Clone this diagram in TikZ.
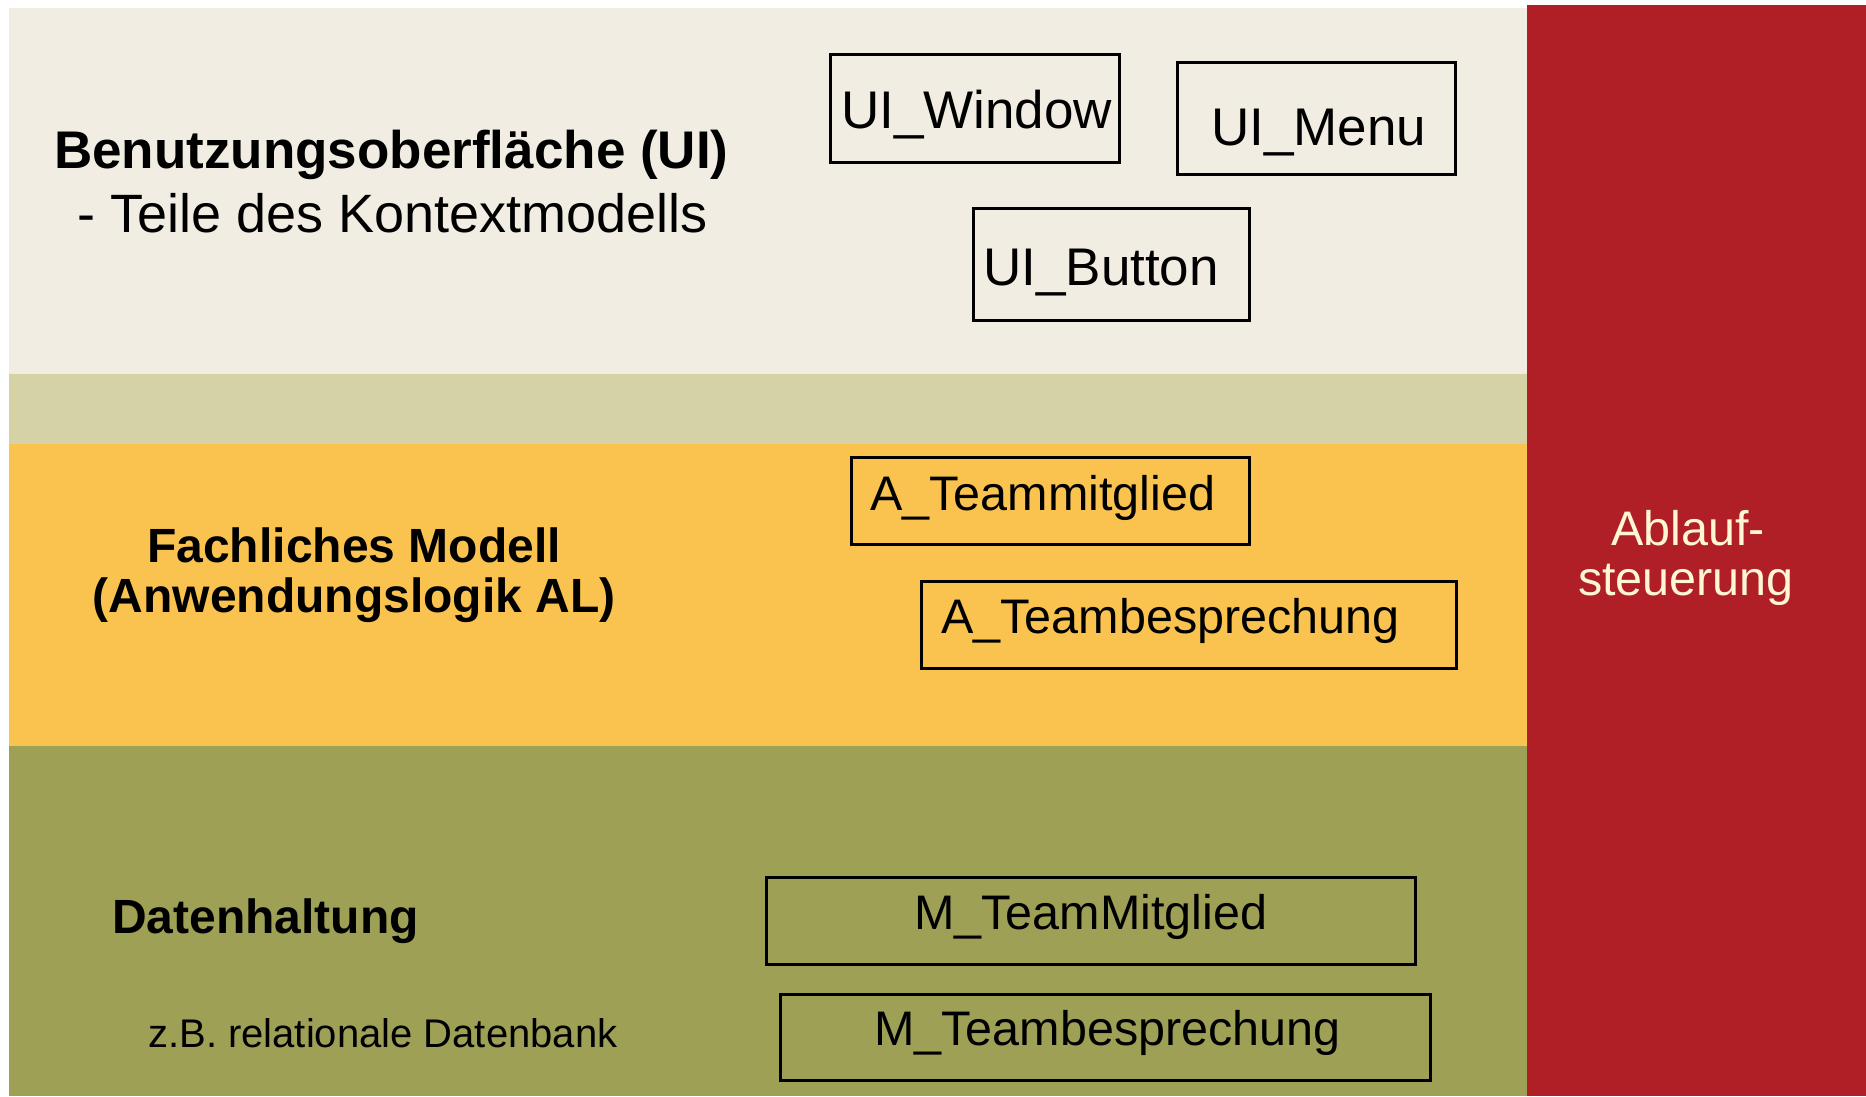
\documentclass[tikz,border=0pt]{standalone}
\usepackage{fontspec}
\setmainfont{Liberation Sans}
\definecolor{cream}{HTML}{F1EDE2}
\definecolor{lolive}{HTML}{D5D3A5}
\definecolor{orangeb}{HTML}{FAC350}
\definecolor{oliveb}{HTML}{9EA055}
\definecolor{redb}{HTML}{AF1F25}
\definecolor{ltext}{HTML}{FFF6D6}
\tikzset{
  box/.style={draw=black, line width=3pt, inner sep=0pt, fill=none},
  big/.style={inner sep=0pt, font=\fontsize{53}{60}\selectfont},
  bigr/.style={inner sep=0pt, font=\fontsize{54}{60}\selectfont},
  mid/.style={inner sep=0pt, font=\fontsize{48.5}{50}\selectfont},
  bigb/.style={inner sep=0pt, font=\fontsize{53}{60}\selectfont\bfseries},
  midb/.style={inner sep=0pt, font=\fontsize{48}{50}\selectfont\bfseries, align=center},
  small/.style={inner sep=0pt, font=\fontsize{40}{46}\selectfont},
}
\begin{document}
\begin{tikzpicture}[x=1pt,y=-1pt]
\useasboundingbox (0,0) rectangle (1866,1096);
\fill[white] (0,0) rectangle (1866,1096);
% layers
\fill[cream] (9,8) rectangle (1530,374);
\fill[lolive] (9,374) rectangle (1530,444);
\fill[orangeb] (9,444) rectangle (1530,746);
\fill[oliveb] (9,746) rectangle (1530,1096);
\fill[redb] (1527,5) rectangle (1866,1096);
% layer titles
\node[bigb, anchor=base west] (uititle) at (54,168) {Benutzungsoberfläche (UI)};
\node[bigr, anchor=base west] (uisub) at (77,232) {- Teile des Kontextmodells};
\node[midb, anchor=base] (altitle) at (354,562) {Fachliches Modell};
\node[midb, anchor=base] (alsub) at (354,612) {(Anwendungslogik AL)};
\node[midb, anchor=base west] (dbtitle) at (112,933) {Datenhaltung};
\node[small, anchor=base west] (dbsub) at (148,1047) {z.B. relationale Datenbank};
\node[mid, anchor=base, text=ltext] (abl1) at (1688,545) {Ablauf-};
\node[mid, anchor=base, text=ltext] (abl2) at (1686,595) {steuerung};
% UI boxes
\node[box, minimum width=289pt, minimum height=108pt] (uiw) at (975,108) {};
\node[big, anchor=base west] (uiwt) at (841,128) {UI\_Window};
\node[box, minimum width=278pt, minimum height=112pt] (uim) at (1316,118) {};
\node[big, anchor=base west] (uimt) at (1211,145) {UI\_Menu};
\node[box, minimum width=276pt, minimum height=112pt] (uib) at (1111.5,264) {};
\node[big, anchor=base west] (uibt) at (983,285) {UI\_Button};
% AL boxes
\node[box, minimum width=398pt, minimum height=87pt] (atm) at (1050.5,500.5) {};
\node[mid, anchor=base west] (atmt) at (870,510) {A\_Teammitglied};
\node[box, minimum width=535pt, minimum height=87pt] (atb) at (1189,624.5) {};
\node[mid, anchor=base west] (atbt) at (941,633) {A\_Teambesprechung};
% DB boxes
\node[box, minimum width=649pt, minimum height=87pt] (mtm) at (1090.5,920.5) {};
\node[mid, anchor=base west] (mtmt) at (914,929) {M\_TeamMitglied};
\node[box, minimum width=650pt, minimum height=86pt] (mtb) at (1105,1037) {};
\node[mid, anchor=base west] (mtbt) at (874,1045) {M\_Teambesprechung};
\end{tikzpicture}
\end{document}
